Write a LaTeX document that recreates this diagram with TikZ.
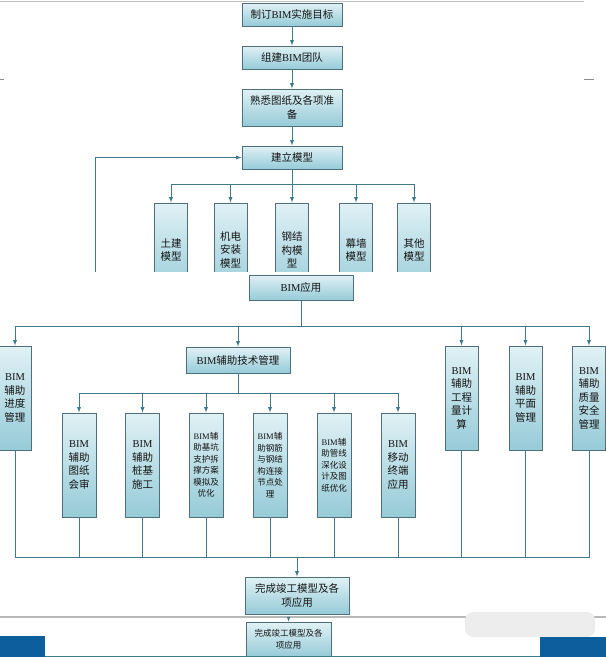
\documentclass[tikz,border=0pt]{standalone}
\usepackage{fontspec}
\setmainfont{Liberation Serif}
\newfontfamily\cjk{Noto Sans CJK SC}
\newcommand\bimtxt{\textrm{BIM}}
\definecolor{ln}{RGB}{62,122,138}
\definecolor{bd}{RGB}{78,112,124}
\definecolor{tp}{RGB}{224,241,245}
\definecolor{bt}{RGB}{150,203,216}
\definecolor{band}{RGB}{12,94,156}
\tikzset{
  box/.style={draw=bd, line width=.9pt, top color=tp, bottom color=bt, inner sep=0pt, align=center, text=black!92, font=\cjk\fontsize{10.5}{13.5}\selectfont},
  wide/.style={box, minimum width=100pt, minimum height=23pt},
  tall/.style={box, minimum width=33pt, minimum height=104pt},
  small/.style={font=\cjk\fontsize{8.5}{11.5}\selectfont},
  link/.style={draw=ln, line width=.9pt},
}
\begin{document}
\begin{tikzpicture}[>=latex, x=1pt, y=-1pt]
\useasboundingbox (0,0) rectangle (606,657);
\draw [black!25] (0,1)--(584,1);
\draw [black!45] (0,79)--(4,79) (584,79)--(594,79);
\node [wide] (goal) at (292,14.5) {制订\bimtxt 实施目标};
\node [wide] (team) at (292,57.5) {组建\bimtxt 团队};
\node [wide, minimum height=37pt] (prep) at (292,107.5) {熟悉图纸及各项准\\备};
\node [wide] (model) at (292,157.5) {建立模型};
\draw [link, ->] (goal)--(team);
\draw [link, ->] (team)--(prep);
\draw [link, ->] (prep)--(model);
\node [tall, minimum height=94pt] (tj) at (171,250) {土建\\模型};
\node [tall, minimum height=94pt] (jd) at (230.5,250) {机电\\安装\\模型};
\node [tall, minimum height=94pt] (gj) at (292,250) {钢结\\构模\\型};
\node [tall, minimum height=94pt] (mq) at (356,250) {幕墙\\模型};
\node [tall, minimum height=94pt] (qt) at (414,250) {其他\\模型};
\coordinate (m1) at (292,184);
\draw [link] (model)--(m1);
\foreach \n in {tj,jd,gj,mq,qt} \draw [link, ->] (m1) -| (\n);
\coordinate (fb) at (95,272);
\draw [link, ->] (fb) |- (model);
\fill [white] (0,272) rectangle (606,300);
\node [wide, minimum width=104pt, minimum height=25pt] (app) at (301,287.5) {\bimtxt 应用};
\node [tall] (jdgl) at (15,398) {\bimtxt\\辅助\\进度\\管理};
\node [wide, minimum width=104pt, minimum height=26pt] (jsgl) at (238,360) {\bimtxt 辅助技术管理};
\node [tall] (gcl) at (461.5,398) {\bimtxt\\辅助\\工程\\量计\\算};
\node [tall] (pmgl) at (525.5,398) {\bimtxt\\辅助\\平面\\管理};
\node [tall] (zlaq) at (589,398) {\bimtxt\\辅助\\质量\\安全\\管理};
\coordinate (a1) at (301,326);
\draw [link] (app)--(a1);
\foreach \n in {jdgl,jsgl,gcl,pmgl,zlaq} \draw [link, ->] (a1) -| (\n);
\node [tall, minimum width=34pt] (tzhs) at (79,465) {\bimtxt\\辅助\\图纸\\会审};
\node [tall, minimum width=34pt] (zjsg) at (142.5,465) {\bimtxt\\辅助\\桩基\\施工};
\node [tall, minimum width=34pt, small] (jkzh) at (206,465) {\bimtxt 辅\\助基坑\\支护拆\\撑方案\\模拟及\\优化};
\node [tall, minimum width=34pt, small] (gjjd) at (270,465) {\bimtxt 辅\\助钢筋\\与钢结\\构连接\\节点处\\理};
\node [tall, minimum width=34pt, small] (gxsh) at (334,465) {\bimtxt 辅\\助管线\\深化设\\计及图\\纸优化};
\node [tall, minimum width=34pt] (yddy) at (398,465) {\bimtxt\\移动\\终端\\应用};
\coordinate (b1) at (238,393);
\draw [link] (jsgl)--(b1);
\foreach \n in {tzhs,zjsg,jkzh,gjjd,gxsh,yddy} \draw [link, ->] (b1) -| (\n);
\coordinate (c1) at (297,557);
\foreach \n in {jdgl,tzhs,zjsg,jkzh,gjjd,gxsh,yddy,gcl,pmgl,zlaq} \draw [link] (\n.south) |- (c1);
\node [wide, minimum width=104pt, minimum height=37pt] (done) at (297,595.5) {完成竣工模型及各\\项应用};
\draw [link, ->] (c1)--(done);
\draw [black!28, line width=2pt] (0,617)--(606,617);
\node [box, small, minimum width=85pt, minimum height=35pt] (copy) at (288.5,639.5) {完成竣工模型及各\\项应用};
\coordinate (g0) at (288.5,617.5);
\draw [link, ->, line width=.6pt] (g0)--(copy);
\fill [black!7, rounded corners=8pt] (465,612) rectangle (595,637);
\fill [band] (0,636) rectangle (45,657);
\fill [band] (540,637) rectangle (606,657);
\draw [ln] (45,656.5)--(540,656.5);
\end{tikzpicture}
\end{document}
